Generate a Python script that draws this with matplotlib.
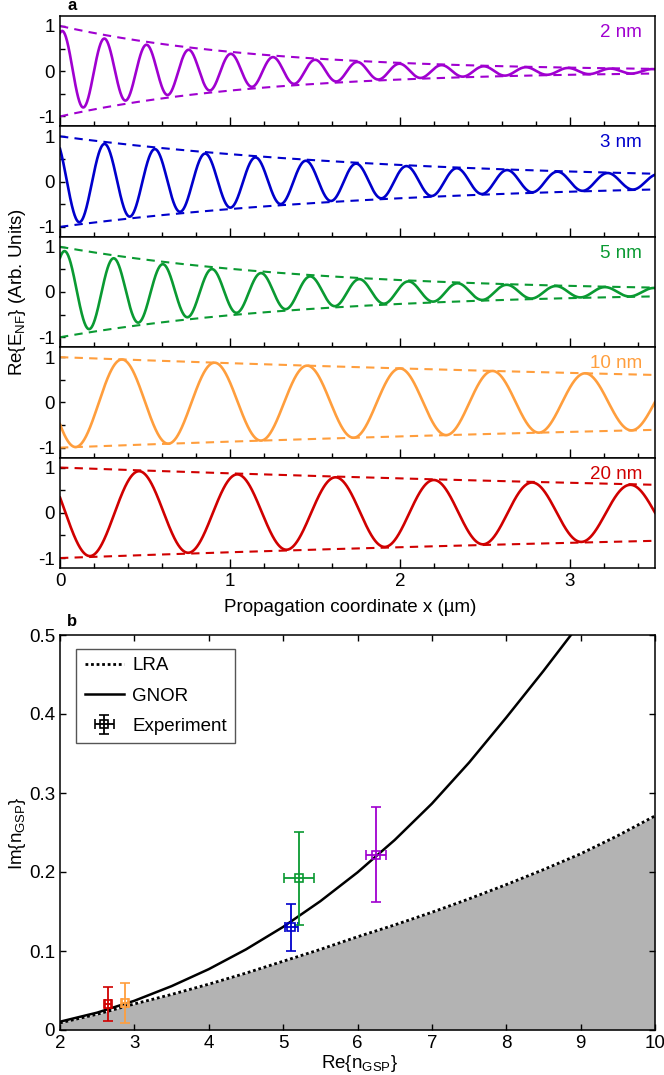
"""Near-field decay of gap surface plasmons and complex mode index."""

import numpy as np
import matplotlib

matplotlib.use("Agg")
import matplotlib.pyplot as plt
from matplotlib.lines import Line2D


plt.rcParams["font.family"] = ["Liberation Sans", "DejaVu Sans"]
plt.rcParams["mathtext.fontset"] = "custom"
plt.rcParams["mathtext.rm"] = "Liberation Sans"
plt.rcParams["mathtext.it"] = "Liberation Sans"
plt.rcParams["axes.unicode_minus"] = False
plt.rcParams["font.size"] = 13.5

# panel a: one damped near-field trace per gap thickness
gap_labels = ["2 nm", "3 nm", "5 nm", "10 nm", "20 nm"]
gap_colors = ["#A000D0", "#0000CC", "#0A9A32", "#FF9E3D", "#D00000"]
wavelength_um = [0.248, 0.296, 0.289, 0.545, 0.578]
decay_length_um = [1.18, 2.0, 1.5, 7.0, 7.3]
first_peak_um = [0.014, -0.033, 0.028, 0.365, 0.466]
field_amplitude = [0.9, 0.95, 0.92, 1.0, 0.98]

# panel b: model curves
lra_re = [2, 2.5, 3, 3.5, 4, 4.5, 5, 5.5, 6, 6.5, 7, 7.5, 8, 8.5, 9, 9.5, 10]
lra_im = [0.009, 0.020, 0.033, 0.045, 0.058, 0.072, 0.087, 0.102, 0.118,
          0.133, 0.149, 0.166, 0.184, 0.203, 0.223, 0.246, 0.271]
gnor_re = [2, 2.5, 3, 3.5, 4, 4.5, 5, 5.5, 6, 6.5, 7, 7.5, 8, 8.5, 8.87]
gnor_im = [0.0105, 0.022, 0.037, 0.0555, 0.077, 0.102, 0.1305, 0.163, 0.1995,
           0.2405, 0.2865, 0.3385, 0.3955, 0.4545, 0.5]

# measured points (20, 10, 3, 5, 2 nm)
exp_colors = ["#D00000", "#FF9E3D", "#0000CC", "#0A9A32", "#A000D0"]
exp_re = [2.64, 2.87, 5.11, 5.21, 6.25]
exp_im = [0.033, 0.034, 0.130, 0.192, 0.222]
exp_re_err = [0.04, 0.04, 0.09, 0.20, 0.135]
exp_im_err = [0.021, 0.025, 0.030, 0.059, 0.060]

W, H = 664, 1075
fig = plt.figure(figsize=(W / 100, H / 100), dpi=100)

left, right = 60 / W, 655 / W
gs = fig.add_gridspec(5, 1, left=left, right=right, top=1 - 16 / H,
                      bottom=1 - 568 / H, hspace=0)

x = np.linspace(0, 3.5, 2000)
for i, label in enumerate(gap_labels):
    ax = fig.add_subplot(gs[i, 0])
    envelope = np.exp(-x / decay_length_um[i])
    field = field_amplitude[i] * envelope * np.cos(
        2 * np.pi * (x - first_peak_um[i]) / wavelength_um[i])
    ax.plot(x, envelope, color=gap_colors[i], lw=1.5, ls=(0, (4, 3)))
    ax.plot(x, -envelope, color=gap_colors[i], lw=1.5, ls=(0, (4, 3)))
    ax.plot(x, field, color=gap_colors[i], lw=1.9)
    ax.text(0.978, 0.85, label, color=gap_colors[i], transform=ax.transAxes,
            ha="right", va="center")
    ax.set_xlim(0, 3.5)
    ax.set_ylim(-1.22, 1.22)
    ax.set_yticks([-1, 0, 1])
    ax.set_yticks([-0.5, 0.5], minor=True)
    ax.set_xticks([0, 1, 2, 3])
    ax.set_xticks(np.arange(0, 3.51, 0.2), minor=True)
    ax.tick_params(which="both", direction="in", top=False, right=False,
                   width=1.0)
    ax.tick_params(axis="x", which="major", length=6.5)
    ax.tick_params(axis="x", which="minor", length=3.5)
    ax.tick_params(axis="y", which="both", length=3.5)
    for sp in ax.spines.values():
        sp.set_linewidth(1.1)
    if i < len(gap_labels) - 1:
        ax.tick_params(axis="x", labelbottom=False)

fig.text(350 / W, 1 - 607 / H, "Propagation coordinate x (µm)",
         ha="center", va="center")
fig.text(18 / W, 1 - 292 / H, r"Re{E$_{\rm NF}$} (Arb. Units)",
         rotation=90, ha="center", va="center")
fig.text(72 / W, 1 - 6 / H, "a", weight="bold", ha="center", va="center",
         fontsize=12)

# panel b
axb = fig.add_axes([left, 1 - 1030 / H, right - left, 395 / H])
axb.fill_between(lra_re, 0, lra_im, color="#B3B3B3", lw=0)
axb.plot(lra_re, lra_im, color="black", lw=2.0, ls=(0, (1, 1)))
axb.plot(gnor_re, gnor_im, color="black", lw=1.8)
for i in range(len(exp_re)):
    axb.errorbar(exp_re[i], exp_im[i], xerr=exp_re_err[i], yerr=exp_im_err[i],
                 color=exp_colors[i], marker="s", ms=6, mfc="none", mew=1.2,
                 elinewidth=1.3, capsize=3.6, capthick=1.3, ls="none")

exp_handle = axb.errorbar([np.nan], [np.nan], xerr=[0.1], yerr=[0.1],
                          color="black", marker="s", ms=6, mfc="none",
                          mew=1.2, elinewidth=1.3, capsize=3.6, capthick=1.3,
                          ls="none")
handles = [
    Line2D([], [], color="black", lw=2.0, ls=(0, (1, 1))),
    Line2D([], [], color="black", lw=1.8),
    exp_handle,
]
leg = axb.legend(handles, ["LRA", "GNOR", "Experiment"], loc="upper left",
                 bbox_to_anchor=(0.027, 0.965), borderaxespad=0,
                 fancybox=False, edgecolor="#555555", framealpha=1,
                 handlelength=2.1, handletextpad=0.45, labelspacing=0.7,
                 borderpad=0.45)
leg.get_frame().set_linewidth(1.0)

axb.set_xlim(2, 10)
axb.set_ylim(0, 0.5)
axb.set_xticks(range(2, 11))
axb.set_yticks([0, 0.1, 0.2, 0.3, 0.4, 0.5])
axb.set_yticklabels(["0", "0.1", "0.2", "0.3", "0.4", "0.5"])
axb.tick_params(direction="in", top=True, right=True, length=4.5, width=1.0)
for sp in axb.spines.values():
    sp.set_linewidth(1.1)

fig.text(359 / W, 1 - 1063 / H, r"Re{n$_{\rm GSP}$}", ha="center",
         va="center")
fig.text(18 / W, 1 - 833 / H, r"Im{n$_{\rm GSP}$}", rotation=90,
         ha="center", va="center")
fig.text(72 / W, 1 - 622 / H, "b", weight="bold", ha="center", va="center",
         fontsize=12)

fig.savefig("out.png", dpi=100)
plt.close(fig)
